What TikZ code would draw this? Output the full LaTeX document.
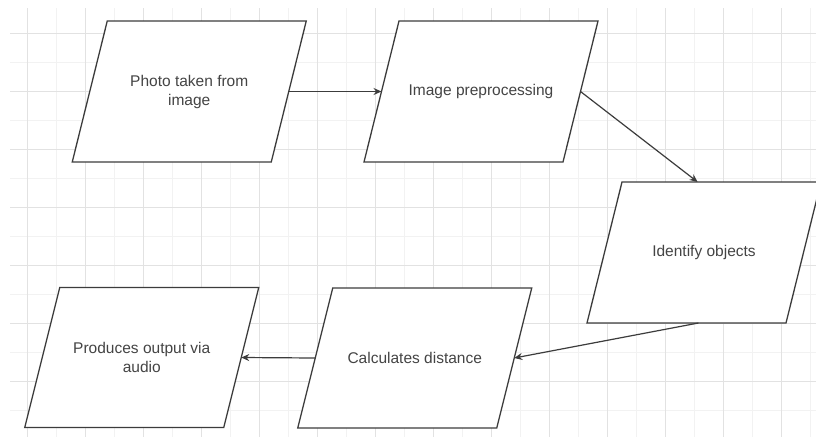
\documentclass[tikz,border=0pt]{standalone}
\usepackage{fontspec}
\setmainfont{Liberation Sans}
\usetikzlibrary{arrows.meta,calc}
\definecolor{gridminor}{HTML}{F2F2F2}
\definecolor{gridmajor}{HTML}{E2E2E2}
\definecolor{edgecol}{HTML}{3C3C3C}
\definecolor{txtcol}{HTML}{444444}
\tikzset{
  iobox/.style={draw=edgecol, line width=1.3pt, fill=white, line join=miter},
  iotext/.style={text=txtcol, align=center, inner sep=0pt,
    font=\fontsize{15.5}{19}\selectfont},
  flow/.style={draw=edgecol, line width=1.2pt, -{Stealth[length=8pt,width=7pt]}},
}
% name, cx, cy, half height, text
\newcommand{\ioparallel}[5]{%
  \coordinate (#1) at (#2,#3);
  \coordinate (#1-tl) at ($(#1)+(-82,-#4)$);
  \coordinate (#1-tr) at ($(#1)+(117,-#4)$);
  \coordinate (#1-br) at ($(#1)+(82,#4)$);
  \coordinate (#1-bl) at ($(#1)+(-117,#4)$);
  \coordinate (#1-r) at ($(#1)+(99.5,0)$);
  \coordinate (#1-l) at ($(#1)+(-99.5,0)$);
  \draw[iobox] (#1-tl) -- (#1-tr) -- (#1-br) -- (#1-bl) -- cycle;
  \node[iotext] (#1-txt) at (#1) {#5};
}
\begin{document}
\begin{tikzpicture}[x=1pt,y=-1pt]
\useasboundingbox (0,0) rectangle (816,437);
\fill[white] (0,0) rectangle (816,437);
\begin{scope}
\clip (0,0) rectangle (816,437);
% grid
\foreach \gx in {56,114,...,816} \draw[gridminor, line width=0.8pt] (\gx,8) -- (\gx,437);
\foreach \gy in {62,120,...,437} \draw[gridminor, line width=0.8pt] (10,\gy) -- (816,\gy);
\foreach \gx in {27,85,...,816} \draw[gridmajor, line width=1pt] (\gx,8) -- (\gx,437);
\foreach \gy in {33,91,...,437} \draw[gridmajor, line width=1pt] (10,\gy) -- (816,\gy);

\ioparallel{a}{189.25}{91.5}{70.5}{Photo taken from\\image}
\ioparallel{b}{481}{91.5}{70.5}{Image preprocessing}
\ioparallel{c}{704}{252.5}{70.5}{Identify objects}
\ioparallel{d}{414.75}{358}{70}{Calculates distance}
\ioparallel{e}{141.75}{357.5}{70}{Produces output via\\audio}

\coordinate (ctop) at ($(c-tl)!0.38!(c-tr)$);
\coordinate (cbot) at ($(c-bl)!0.56!(c-br)$);

\draw[flow] (a-r) -- (b-l);
\draw[flow] (b-r) -- (ctop);
\draw[flow] (cbot) -- (d-r);
\draw[flow] (d-l) -- (e-r);
\end{scope}
\end{tikzpicture}
\end{document}
